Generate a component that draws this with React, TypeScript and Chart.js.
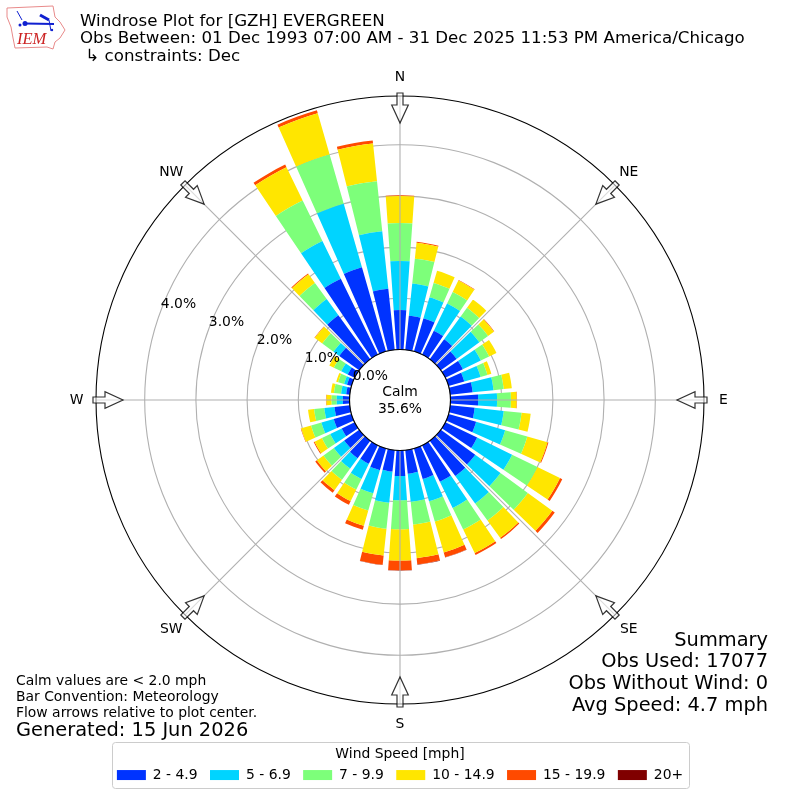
import React, { useEffect, useRef } from "react";
import { Chart, registerables, PolarAreaController } from "chart.js";

const directions = Array.from({ length: 36 }, (_, i) => i * 10);
const speedLabels = ["2 - 4.9", "5 - 6.9", "7 - 9.9", "10 - 14.9", "15 - 19.9", "20+"];
const speedColors = ["#0033ff", "#00d4ff", "#7dff7a", "#ffe600", "#ff4a00", "#800000"];

const speed2to5 = [.77,.67,.67,.52,.48,.38,.38,.32,.44,.54,.48,.56,.69,.83,.85,.79,.62,.46,.50,.42,.44,.40,.42,.36,.28,.36,.30,.13,.07,.09,.15,.48,1.06,1.65,1.71,1.20];
const speed5to7 = [.96,.63,.43,.59,.55,.55,.39,.33,.41,.37,.57,.59,.76,.61,.66,.57,.45,.55,.47,.61,.47,.33,.25,.25,.25,.25,.20,.12,.10,.06,.14,.14,.39,.82,1.29,1.13];
const speed7to10 = [.74,.49,.29,.25,.21,.21,.18,.14,.20,.27,.35,.45,.55,.66,.41,.47,.41,.45,.57,.51,.35,.23,.27,.25,.18,.21,.20,.10,.14,.12,.16,.27,.39,.88,1.00,.98];
const speed10to15 = [.53,.31,.25,.25,.20,.14,.16,.08,.16,.11,.18,.41,.49,.59,.42,.51,.63,.66,.61,.53,.31,.25,.25,.16,.16,.20,.12,.10,.06,.04,.10,.18,.21,.72,.84,.74];
const speed15to20 = [.014,.02,0,.01,0,.01,0,0,0,.01,0,.02,.05,.06,.03,.04,.10,.12,.19,.18,.08,.08,.06,.04,.02,.01,0,.01,0,0,0,.01,.02,.06,.06,.06];
const speed20plus = [0,0,0,0,0,0,0,0,0,0,0,0,0,0,0,0,.004,.008,.008,.004,0,0,0,0,0,0,0,0,0,0,0,0,0,0,0,0];
const seriesValues = [speed2to5, speed5to7, speed7to10, speed10to15, speed15to20, speed20plus];

const radialTicks = [0, 1, 2, 3, 4];
const compass = ["N", "NE", "E", "SE", "S", "SW", "W", "NW"];
const titleLines = [
  "Windrose Plot for [GZH] EVERGREEN",
  "Obs Between: 01 Dec 1993 07:00 AM - 31 Dec 2025 11:53 PM America/Chicago",
  " \u21b3 constraints: Dec",
];
const noteLines = ["Calm values are < 2.0 mph", "Bar Convention: Meteorology", "Flow arrows relative to plot center."];
const generatedLine = "Generated: 15 Jun 2026";
const summaryLines = ["Summary", "Obs Used: 17077", "Obs Without Wind: 0", "Avg Speed: 4.7 mph"];
const calmLines = ["Calm", "35.6%"];

const FONT = '"DejaVu Sans"';
const BAR_DEG = 8;
const GAP_DEG = 2;

class StackedRoseController extends PolarAreaController {
  static id = "stackedRose";
  static defaults = PolarAreaController.defaults;
  static overrides = PolarAreaController.overrides;
  updateElement(el: any, i: number, props: any, mode: any) {
    const sets = this.chart.data.datasets as any[];
    const base = this.index > 0 ? sets[this.index - 1].data[i] : 0;
    props.innerRadius = (this.chart.scales.r as any).getDistanceFromCenterForValue(base);
    super.updateElement(el, i, props, mode);
  }
}
Chart.register(...registerables, StackedRoseController as any);

function buildCumulative(): number[][] {
  const totals = directions.map(() => 0);
  return seriesValues.map((vals) => {
    const slots: number[] = [];
    vals.forEach((v, i) => {
      totals[i] += v;
      slots.push(totals[i], 0);
    });
    return slots;
  });
}

function drawLogo(ctx: CanvasRenderingContext2D) {
  ctx.save();
  ctx.strokeStyle = "#e88a8a";
  ctx.lineWidth = 1;
  ctx.beginPath();
  const o = [[7,8],[53,6],[55,17],[60,22],[65,30],[60,38],[55,42],[53,49],[47,47],[15,48],[13,38],[11,27],[7,17]];
  o.forEach(([x, y], i) => (i ? ctx.lineTo(x, y) : ctx.moveTo(x, y)));
  ctx.closePath();
  ctx.stroke();
  ctx.strokeStyle = "#1020d0";
  ctx.fillStyle = "#1020d0";
  ctx.lineWidth = 2;
  ctx.beginPath(); ctx.moveTo(25, 23.5); ctx.lineTo(54, 24); ctx.stroke();
  ctx.lineWidth = 3;
  ctx.beginPath(); ctx.moveTo(40, 15); ctx.lineTo(49, 20); ctx.stroke();
  ctx.lineWidth = 1;
  ctx.beginPath(); ctx.moveTo(49, 20); ctx.lineTo(51, 31); ctx.stroke();
  ctx.beginPath(); ctx.moveTo(17, 11); ctx.lineTo(22, 20); ctx.stroke();
  ctx.beginPath(); ctx.arc(25, 23.5, 2.5, 0, Math.PI * 2); ctx.fill();
  ctx.beginPath(); ctx.arc(20, 25, 1.5, 0, Math.PI * 2); ctx.fill();
  ctx.beginPath(); ctx.arc(52, 30, 1.2, 0, Math.PI * 2); ctx.fill();
  ctx.fillStyle = "#cc2222";
  ctx.font = 'italic 16.5px "Liberation Serif"';
  ctx.textAlign = "left";
  ctx.textBaseline = "alphabetic";
  ctx.fillText("IEM", 17, 44);
  ctx.restore();
}

const rosePlugin = {
  id: "rose",
  afterDraw(chart: any) {
    const { ctx } = chart;
    const r = chart.scales.r;
    const cx = r.xCenter;
    const cy = r.yCenter;
    const outer = r.drawingArea;
    const r0 = r.getDistanceFromCenterForValue(0);
    ctx.save();

    // spokes
    ctx.strokeStyle = "#b0b0b0";
    ctx.lineWidth = 1.1;
    compass.forEach((_, i) => {
      const a = (i * 45 * Math.PI) / 180;
      ctx.beginPath();
      ctx.moveTo(cx + r0 * Math.sin(a), cy - r0 * Math.cos(a));
      ctx.lineTo(cx + outer * Math.sin(a), cy - outer * Math.cos(a));
      ctx.stroke();
    });

    // frame and calm circle
    ctx.strokeStyle = "#000";
    ctx.lineWidth = 1.1;
    ctx.beginPath(); ctx.arc(cx, cy, outer, 0, Math.PI * 2); ctx.stroke();
    ctx.beginPath(); ctx.arc(cx, cy, r0, 0, Math.PI * 2); ctx.stroke();

    // flow arrows, pointing at the centre
    compass.forEach((_, i) => {
      ctx.save();
      ctx.translate(cx, cy);
      ctx.rotate((i * 45 * Math.PI) / 180);
      ctx.beginPath();
      ctx.moveTo(-3, -outer - 3);
      ctx.lineTo(3, -outer - 3);
      ctx.lineTo(3, -outer + 9);
      ctx.lineTo(8.3, -outer + 9);
      ctx.lineTo(0, -outer + 27);
      ctx.lineTo(-8.3, -outer + 9);
      ctx.lineTo(-3, -outer + 9);
      ctx.closePath();
      ctx.fillStyle = "rgba(255,255,255,0.55)";
      ctx.strokeStyle = "rgba(0,0,0,0.8)";
      ctx.lineWidth = 1.2;
      ctx.fill();
      ctx.stroke();
      ctx.restore();
    });

    ctx.fillStyle = "#000";
    ctx.font = `13.9px ${FONT}`;

    // compass labels
    ctx.textAlign = "center";
    ctx.textBaseline = "middle";
    compass.forEach((label, i) => {
      const a = (i * 45 * Math.PI) / 180;
      const d = 323.5;
      ctx.fillText(label, cx + d * Math.sin(a), cy - d * Math.cos(a) + 0.7);
    });

    // radial tick labels
    const bearing = (290.5 * Math.PI) / 180;
    ctx.textAlign = "left";
    ctx.textBaseline = "bottom";
    radialTicks.forEach((v) => {
      const d = r.getDistanceFromCenterForValue(v);
      ctx.fillText(`${v.toFixed(1)}%`, cx + d * Math.sin(bearing), cy - d * Math.cos(bearing) + 1);
    });

    // calm text
    ctx.textAlign = "center";
    ctx.textBaseline = "middle";
    ctx.fillText(calmLines[0], cx, cy - 8);
    ctx.fillText(calmLines[1], cx, cy + 9);

    // title
    ctx.textAlign = "left";
    ctx.textBaseline = "middle";
    ctx.font = `16.67px ${FONT}`;
    titleLines.forEach((t, i) => ctx.fillText(t, 80, 21.5 + i * 17.6));

    // notes
    ctx.font = `13.9px ${FONT}`;
    noteLines.forEach((t, i) => ctx.fillText(t, 16, 681.5 + i * 16));
    ctx.font = `19.4px ${FONT}`;
    ctx.fillText(generatedLine, 16, 730.5);

    // summary
    ctx.textAlign = "right";
    ctx.font = `19.4px ${FONT}`;
    summaryLines.forEach((t, i) => ctx.fillText(t, 768, 640.5 + i * 21.7));

    // legend frame
    ctx.strokeStyle = "#cccccc";
    ctx.lineWidth = 1;
    ctx.beginPath();
    ctx.roundRect(112.5, 742.5, 577, 46, 3);
    ctx.stroke();

    drawLogo(ctx);
    ctx.restore();
  },
};

export default function App() {
  const ref = useRef<HTMLCanvasElement>(null);
  useEffect(() => {
    document.body.style.margin = "0";
    const cumulative = buildCumulative();
    const chart = new Chart(ref.current as HTMLCanvasElement, {
      type: "stackedRose" as any,
      data: {
        labels: directions.flatMap((d) => [`${d}`, `${d}+`]),
        datasets: speedLabels.map((label, i) => ({
          label,
          data: cumulative[i],
          backgroundColor: speedColors[i],
          borderWidth: 0,
          angle: (c: any) => (c.dataIndex % 2 === 0 ? BAR_DEG : GAP_DEG),
        })) as any,
      },
      options: {
        responsive: false,
        animation: false,
        layout: { padding: { top: 96, left: 96, right: 96, bottom: 8 } },
        scales: {
          r: {
            z: 1,
            min: -0.986,
            max: 4.951,
            startAngle: -BAR_DEG / 2,
            ticks: { display: false, stepSize: 1, includeBounds: false },
            grid: { color: "#b0b0b0", lineWidth: 1.1, circular: true },
            angleLines: { display: false },
            pointLabels: { display: false },
          } as any,
        },
        plugins: {
          tooltip: { enabled: false },
          legend: {
            position: "bottom",
            title: {
              display: true,
              text: "Wind Speed [mph]",
              color: "#000",
              font: { family: FONT, size: 13.9 },
              padding: { top: 42.7, bottom: -8.6 },
            },
            labels: {
              color: "#000",
              font: { family: FONT, size: 13.9 },
              boxWidth: 29,
              boxHeight: 10,
              padding: 12.4,
              generateLabels: () =>
                speedLabels.map((text, i) => ({
                  text,
                  fillStyle: speedColors[i],
                  strokeStyle: speedColors[i],
                  lineWidth: 0,
                  hidden: false,
                  datasetIndex: i,
                })),
            },
          },
        } as any,
      },
      plugins: [rosePlugin as any],
    });
    return () => chart.destroy();
  }, []);
  return (
    <div style={{ position: "absolute", left: 0, top: 0, width: 800, height: 800 }}>
      <canvas ref={ref} width={800} height={800} style={{ display: "block" }} />
    </div>
  );
}
